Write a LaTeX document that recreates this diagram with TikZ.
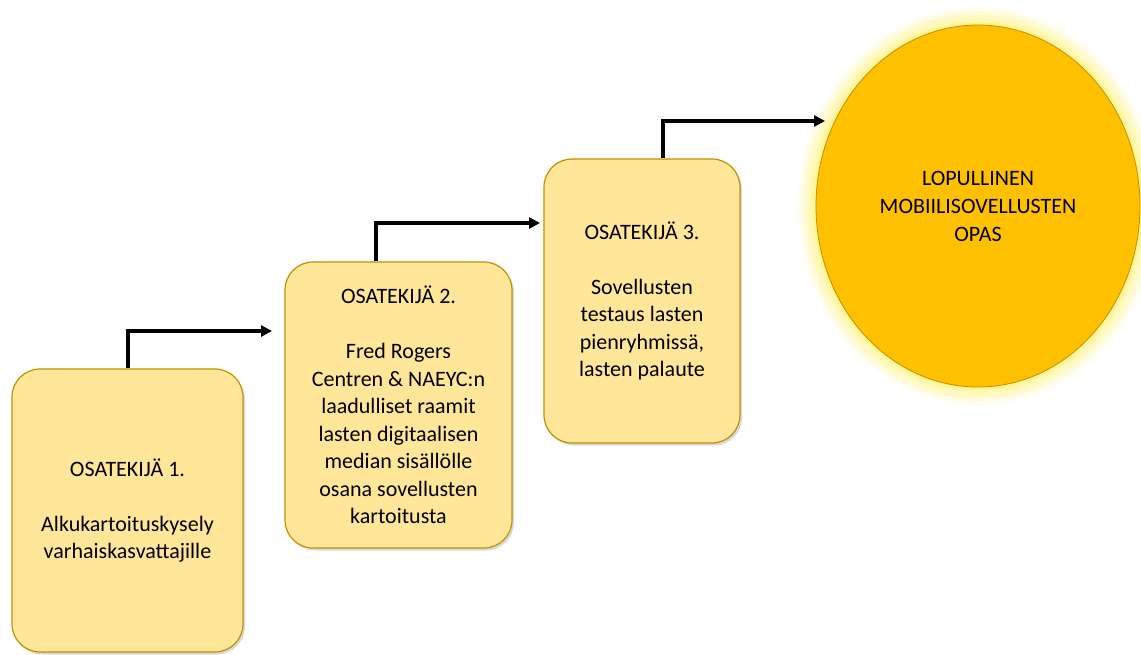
\documentclass[tikz,border=0pt]{standalone}
\usepackage{fontspec}
\setmainfont{Carlito}
\usetikzlibrary{arrows.meta,shapes.geometric,shadows}
\definecolor{boxfill}{HTML}{FFE699}
\definecolor{boxline}{HTML}{BF9000}
\definecolor{opasfill}{HTML}{FFC000}
\definecolor{glow}{HTML}{FFF06A}

\begin{document}
\begin{tikzpicture}[x=1pt,y=-1pt]

\tikzset{%
every node/.style={align=center, font=\fontsize{22}{27.5}\selectfont},%
>={Triangle[length=11pt,width=11pt]}%
}

\tikzstyle{osa}=[draw=boxline, fill=boxfill, line width=1.2pt, rounded corners=28pt, drop shadow={opacity=.3, shadow xshift=2pt, shadow yshift=-2.5pt}]
\tikzstyle{opas}=[ellipse, draw=boxline, fill=opasfill, line width=.8pt, inner sep=0pt, font=\fontsize{22}{28}\selectfont]
\tikzstyle{flow}=[->, line width=4pt, black]

\useasboundingbox (0,0) rectangle (1141,654);

\foreach \g/\o in {18/.12,14/.16,10/.2,6/.25,3/.3}
  \fill[glow, opacity=\o] (978,206) ellipse [x radius=162+\g, y radius=181+\g];

\node[osa, minimum width=231pt, minimum height=283pt] (osa1) at (127.5,510.5)
  {OSATEKIJÄ 1.\\[27.5pt]Alkukartoituskysely\\varhaiskasvattajille};
\node[osa, minimum width=227pt, minimum height=286pt] (osa2) at (398.5,405)
  {OSATEKIJÄ 2.\\[27.5pt]Fred Rogers\\Centren \& NAEYC:n\\laadulliset raamit\\lasten digitaalisen\\median sisällölle\\osana sovellusten\\kartoitusta};
\node[osa, minimum width=196pt, minimum height=284pt] (osa3) at (642,301)
  {OSATEKIJÄ 3.\\[27.5pt]Sovellusten\\testaus lasten\\pienryhmissä,\\lasten palaute};
\node[opas, minimum width=324pt, minimum height=362pt] (opas) at (978,206)
  {LOPULLINEN\\MOBIILISOVELLUSTEN\\OPAS};

\coordinate (tip1) at (272,331);
\coordinate (tip2) at (540,223);
\coordinate (tip3) at (825,121);
\draw[flow] (osa1.north) |- (tip1);
\draw[flow] ([xshift=-22.5pt]osa2.north) |- (tip2);
\draw[flow] ([xshift=21pt]osa3.north) |- (tip3);

\end{tikzpicture}
\end{document}
